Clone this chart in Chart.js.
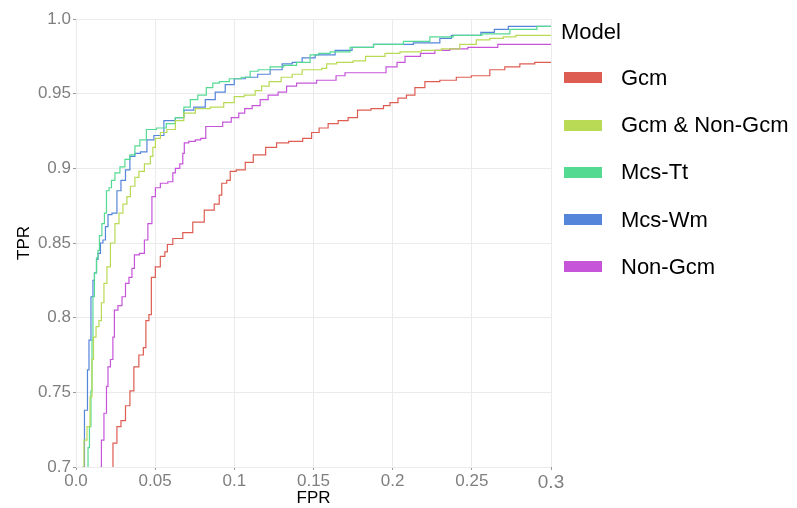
<!DOCTYPE html>
<html>
<head>
<meta charset="utf-8">
<script src="https://cdn.jsdelivr.net/npm/chart.js@4.4.0/dist/chart.umd.min.js"></script>
<style>
    body { margin: 0; background: #fff; font-family: "Liberation Sans", Arial, sans-serif; }
    #wrap { position: relative; width: 797px; height: 508px; }
    #legend { position: absolute; left: 0; top: 0; }
    .leg-title { position: absolute; left: 561px; top: 19px; font-size: 22px; color: #000; white-space: nowrap; line-height: 26px; }
    .leg-item { position: absolute; left: 564px; height: 30px; display: flex; align-items: center; white-space: nowrap; }
    .leg-swatch { width: 38px; height: 11px; margin-right: 19px; }
    .leg-label { font-size: 22px; color: #000; }
</style>
</head>
<body>
<div id="wrap">
    <canvas id="roc" width="797" height="508"></canvas>
    <div id="legend"></div>
</div>
<script>
// Nama model dan warna
const models = ['Gcm', 'Gcm & Non-Gcm', 'Mcs-Tt', 'Mcs-Wm', 'Non-Gcm'];
const colors = ['#DE5D53', '#B9DA55', '#55DA92', '#5585DA', '#C655DA'];

// Label sumbu
const xTickValues = [0, 0.05, 0.1, 0.15, 0.2, 0.25, 0.3];
const xTickLabels = ['0.0', '0.05', '0.1', '0.15', '0.2', '0.25', '0.3'];
const yTickValues = [0.7, 0.75, 0.8, 0.85, 0.9, 0.95, 1.0];
const yTickLabels = ['0.7', '0.75', '0.8', '0.85', '0.9', '0.95', '1.0'];

// Kurva ROC
const gcmFpr = [0.0218, 0.0249, 0.0268, 0.0300, 0.0325, 0.0356, 0.0375, 0.0419, 0.0432, 0.0451, 0.0470, 0.0482, 0.0520, 0.0545, 0.0577, 0.0577, 0.0646, 0.0703, 0.0772, 0.0848, 0.0898, 0.0911, 0.0930, 0.0974, 0.0974, 0.1050, 0.1088, 0.1151, 0.1245, 0.1289, 0.1397, 0.1466, 0.1510, 0.1561, 0.1624, 0.1687, 0.1750, 0.1806, 0.1920, 0.1964, 0.2002, 0.2065, 0.2109, 0.2172, 0.2235, 0.2361, 0.2443, 0.2551, 0.2676, 0.2740, 0.2866, 0.2929, 0.3];
const gcmTpr = [0.699, 0.716, 0.727, 0.731, 0.741, 0.751, 0.767, 0.775, 0.780, 0.798, 0.802, 0.827, 0.834, 0.841, 0.844, 0.849, 0.853, 0.857, 0.864, 0.872, 0.876, 0.882, 0.890, 0.892, 0.898, 0.899, 0.904, 0.909, 0.914, 0.917, 0.918, 0.920, 0.924, 0.927, 0.930, 0.932, 0.934, 0.939, 0.940, 0.942, 0.944, 0.947, 0.949, 0.954, 0.958, 0.959, 0.961, 0.962, 0.966, 0.968, 0.970, 0.971, 0.971];

const bothFpr = [0.0041, 0.0060, 0.0079, 0.0098, 0.0104, 0.0117, 0.0136, 0.0154, 0.0167, 0.0186, 0.0205, 0.0230, 0.0262, 0.0281, 0.0312, 0.0331, 0.0356, 0.0388, 0.0407, 0.0457, 0.0482, 0.0489, 0.0514, 0.0552, 0.0596, 0.0659, 0.0703, 0.0804, 0.0892, 0.0974, 0.1025, 0.1100, 0.1163, 0.1182, 0.1258, 0.1334, 0.1397, 0.1460, 0.1542, 0.1561, 0.1605, 0.1687, 0.1813, 0.1844, 0.1920, 0.1983, 0.2109, 0.2254, 0.2361, 0.2487, 0.2569, 0.2658, 0.2740, 0.2815, 0.3];
const bothTpr = [0.700, 0.718, 0.727, 0.747, 0.772, 0.787, 0.794, 0.798, 0.810, 0.823, 0.834, 0.850, 0.863, 0.870, 0.876, 0.881, 0.888, 0.894, 0.898, 0.903, 0.908, 0.914, 0.920, 0.924, 0.926, 0.932, 0.937, 0.940, 0.941, 0.944, 0.948, 0.949, 0.952, 0.955, 0.958, 0.961, 0.963, 0.966, 0.966, 0.967, 0.970, 0.971, 0.972, 0.975, 0.975, 0.977, 0.978, 0.979, 0.980, 0.983, 0.986, 0.987, 0.988, 0.989, 0.989];

const ttFpr = [0.0073, 0.0079, 0.0091, 0.0098, 0.0104, 0.0110, 0.0123, 0.0136, 0.0142, 0.0154, 0.0173, 0.0186, 0.0199, 0.0218, 0.0230, 0.0262, 0.0293, 0.0325, 0.0356, 0.0388, 0.0419, 0.0470, 0.0545, 0.0596, 0.0659, 0.0703, 0.0741, 0.0798, 0.0848, 0.0880, 0.0930, 0.1006, 0.1081, 0.1119, 0.1182, 0.1270, 0.1352, 0.1434, 0.1523, 0.1542, 0.1668, 0.1794, 0.1964, 0.2172, 0.2298, 0.2469, 0.2658, 0.2822, 0.3];
const ttTpr = [0.700, 0.713, 0.727, 0.751, 0.785, 0.814, 0.830, 0.840, 0.845, 0.855, 0.863, 0.870, 0.885, 0.887, 0.892, 0.897, 0.901, 0.906, 0.909, 0.915, 0.919, 0.926, 0.927, 0.930, 0.934, 0.941, 0.946, 0.949, 0.954, 0.957, 0.958, 0.960, 0.961, 0.965, 0.966, 0.968, 0.969, 0.971, 0.976, 0.977, 0.978, 0.981, 0.983, 0.985, 0.988, 0.989, 0.990, 0.993, 0.995];

const wmFpr = [0.0041, 0.0066, 0.0079, 0.0085, 0.0104, 0.0110, 0.0123, 0.0136, 0.0142, 0.0167, 0.0173, 0.0199, 0.0205, 0.0249, 0.0268, 0.0300, 0.0325, 0.0356, 0.0388, 0.0426, 0.0470, 0.0514, 0.0596, 0.0659, 0.0703, 0.0785, 0.0848, 0.0911, 0.0974, 0.1025, 0.1113, 0.1182, 0.1270, 0.1334, 0.1397, 0.1460, 0.1561, 0.1712, 0.1775, 0.1983, 0.2279, 0.2317, 0.2424, 0.2551, 0.2563, 0.2721, 0.2740, 0.3];
const wmTpr = [0.700, 0.738, 0.765, 0.785, 0.814, 0.825, 0.830, 0.839, 0.843, 0.850, 0.852, 0.861, 0.869, 0.870, 0.885, 0.892, 0.899, 0.908, 0.910, 0.911, 0.919, 0.922, 0.932, 0.934, 0.939, 0.941, 0.946, 0.951, 0.956, 0.960, 0.961, 0.963, 0.966, 0.970, 0.971, 0.974, 0.976, 0.979, 0.981, 0.983, 0.984, 0.987, 0.989, 0.989, 0.991, 0.993, 0.995, 0.995];

const nonFpr = [0.0154, 0.0167, 0.0186, 0.0199, 0.0205, 0.0230, 0.0236, 0.0249, 0.0281, 0.0300, 0.0325, 0.0344, 0.0363, 0.0375, 0.0426, 0.0438, 0.0470, 0.0489, 0.0514, 0.0552, 0.0608, 0.0615, 0.0640, 0.0671, 0.0678, 0.0690, 0.0735, 0.0772, 0.0804, 0.0835, 0.0898, 0.0955, 0.1006, 0.1050, 0.1081, 0.1144, 0.1182, 0.1245, 0.1308, 0.1352, 0.1434, 0.1605, 0.1680, 0.1718, 0.1920, 0.1996, 0.2059, 0.2097, 0.2254, 0.2279, 0.2443, 0.2506, 0.2822, 0.3];
const nonTpr = [0.700, 0.718, 0.736, 0.754, 0.767, 0.772, 0.787, 0.805, 0.808, 0.814, 0.823, 0.827, 0.833, 0.842, 0.843, 0.852, 0.863, 0.881, 0.887, 0.890, 0.891, 0.897, 0.900, 0.903, 0.910, 0.917, 0.918, 0.919, 0.920, 0.928, 0.928, 0.931, 0.934, 0.937, 0.940, 0.942, 0.946, 0.949, 0.951, 0.955, 0.957, 0.959, 0.962, 0.964, 0.964, 0.968, 0.971, 0.975, 0.977, 0.979, 0.980, 0.981, 0.983, 0.983];

const seriesFpr = [gcmFpr, bothFpr, ttFpr, wmFpr, nonFpr];
const seriesTpr = [gcmTpr, bothTpr, ttTpr, wmTpr, nonTpr];

// Gabungkan jadi titik {x, y}
function toPoints(xs, ys) {
    return xs.map((x, i) => ({ x: x, y: ys[i] }));
}

const datasets = models.map((name, i) => ({
    label: name,
    data: toPoints(seriesFpr[i], seriesTpr[i]),
    borderColor: colors[i],
    backgroundColor: colors[i],
    borderWidth: 1.2,
    pointRadius: 0,
    showLine: true,
    fill: false,
    stepped: 'middle'
}));

const tickGray = '#7f7f7f';
const gridColor = '#ebebeb';

new Chart(document.getElementById('roc').getContext('2d'), {
    type: 'scatter',
    data: { datasets: datasets },
    options: {
        responsive: false,
        animation: false,
        layout: { padding: { top: 19, right: 246, bottom: 0, left: 0 } },
        plugins: {
            legend: { display: false },
            tooltip: { enabled: false }
        },
        scales: {
            x: {
                type: 'linear',
                min: 0,
                max: 0.3,
                afterBuildTicks: scale => { scale.ticks = xTickValues.map(v => ({ value: v })); },
                afterFit: scale => { scale.height = 41; },
                grid: { color: gridColor, lineWidth: 1, tickColor: '#999', tickLength: 3 },
                border: { display: false },
                ticks: {
                    color: tickGray,
                    padding: 1,
                    maxRotation: 0,
                    font: ctx => ({ family: '"Liberation Sans", Arial, sans-serif', size: ctx.index === 6 ? 19 : 17 }),
                    callback: (value, index) => xTickLabels[index]
                },
                title: {
                    display: true,
                    text: 'FPR',
                    color: '#000',
                    font: { family: '"Liberation Sans", Arial, sans-serif', size: 17 },
                    padding: { top: 0, bottom: -1 }
                }
            },
            y: {
                type: 'linear',
                min: 0.7,
                max: 1.0,
                afterBuildTicks: scale => { scale.ticks = yTickValues.map(v => ({ value: v })); },
                afterFit: scale => { scale.width = 76; },
                grid: { color: gridColor, lineWidth: 1, tickColor: '#999', tickLength: 3 },
                border: { display: false },
                ticks: {
                    color: tickGray,
                    padding: 2,
                    font: { family: '"Liberation Sans", Arial, sans-serif', size: 17 },
                    callback: (value, index) => yTickLabels[index]
                },
                title: {
                    display: true,
                    text: 'TPR',
                    color: '#000',
                    font: { family: '"Liberation Sans", Arial, sans-serif', size: 17 },
                    padding: { top: 14, bottom: 0 }
                }
            }
        }
    }
});

// Legenda manual
function renderLegend() {
    const box = document.getElementById('legend');
    box.innerHTML = '';

    const title = document.createElement('div');
    title.className = 'leg-title';
    title.textContent = 'Model';
    box.appendChild(title);

    models.forEach((name, i) => {
        const item = document.createElement('div');
        item.className = 'leg-item';
        item.style.top = (62.7 + i * 47.3) + 'px';
        item.innerHTML = `
            <span class="leg-swatch" style="background:${colors[i]}"></span>
            <span class="leg-label">${name}</span>
        `;
        box.appendChild(item);
    });
}

renderLegend();
</script>
</body>
</html>
